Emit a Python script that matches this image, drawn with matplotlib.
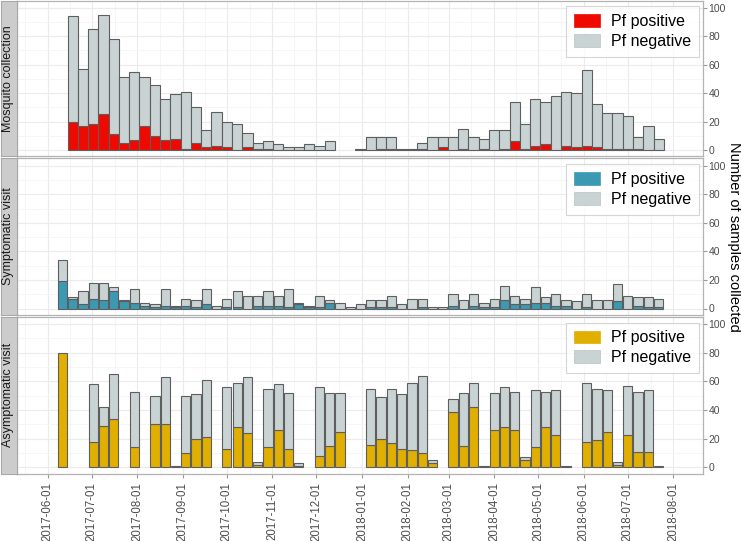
import numpy as np
import pandas as pd
import matplotlib
matplotlib.use("Agg")
import matplotlib.pyplot as plt
import matplotlib.dates as mdates
from matplotlib.patches import Patch

plt.rcParams['font.family'] = ['Liberation Sans', 'DejaVu Sans']

# ---------------- data ----------------
panel_names = ["Mosquito collection", "Symptomatic visit", "Asymptomatic visit"]

mosq_start = "2017-06-18"
mosq_total = [94, 57, 85, 95, 78, 51, 55, 51, 46, 36, 39, 41, 30, 14, 27, 20, 18, 12, 5, 6,
              4, 2, 2, 4, 3, 6, 0, 0, 1, 9, 9, 9, 1, 1, 5, 9, 9, 9, 15, 9,
              8, 14, 14, 34, 18, 36, 34, 38, 41, 40, 56, 32, 26, 26, 24, 9, 17, 8]
mosq_pos = [20, 17, 18, 25, 11, 5, 7, 17, 10, 7, 8, 1, 5, 2, 3, 2, 0, 2, 1, 1,
            0, 0, 0, 0, 0, 0, 0, 0, 0, 0, 1, 1, 0, 0, 1, 0, 2, 0, 1, 0,
            1, 0, 1, 6, 1, 3, 4, 0, 3, 2, 3, 2, 1, 1, 1, 1, 0, 0]

sympt_start = "2017-06-11"
sympt_total = [34, 8, 12, 18, 18, 15, 6, 14, 4, 3, 14, 2, 7, 6, 14, 2, 7, 12, 9, 9,
               12, 9, 14, 4, 2, 9, 6, 4, 1, 3, 6, 6, 9, 3, 7, 7, 1, 1, 10, 6,
               10, 4, 7, 16, 9, 7, 15, 8, 10, 6, 5, 10, 6, 6, 17, 9, 8, 8, 7]
sympt_pos = [19, 7, 3, 7, 6, 12, 5, 4, 2, 1, 2, 1, 2, 1, 3, 0, 1, 1, 0, 2,
             2, 2, 1, 3, 1, 1, 4, 0, 0, 0, 1, 1, 1, 0, 0, 1, 0, 0, 2, 0,
             2, 1, 1, 6, 3, 3, 4, 4, 2, 2, 0, 1, 0, 0, 5, 0, 2, 1, 1]

asym_start = "2017-06-11"
asym_total = [80, 0, 0, 58, 42, 65, 0, 53, 0, 50, 63, 1, 50, 51, 61, 0, 56, 59, 63, 4,
              55, 58, 52, 3, 0, 56, 52, 52, 0, 0, 55, 49, 55, 51, 59, 64, 5, 0, 48, 52,
              59, 1, 52, 56, 53, 7, 54, 53, 54, 1, 0, 59, 55, 54, 4, 57, 53, 54, 1]
asym_pos = [80, 0, 0, 18, 29, 34, 0, 14, 0, 30, 30, 1, 10, 20, 21, 0, 13, 28, 24, 2,
            14, 26, 13, 1, 0, 8, 15, 25, 0, 0, 16, 20, 17, 13, 12, 10, 3, 0, 39, 15,
            42, 0, 26, 28, 26, 5, 14, 28, 23, 0, 0, 18, 19, 25, 2, 23, 11, 11, 0]

pos_colors = ["#EE0A00", "#3B9AB2", "#E1AF00"]
neg_color = "#C9D3D3"
legend_labels = ["Pf positive", "Pf negative"]

x_tick_dates = pd.date_range("2017-06-01", "2018-08-01", freq="MS")
y_ticks = [0, 20, 40, 60, 80, 100]

# ---------------- layout ----------------
W, H = 741, 541
fig = plt.figure(figsize=(W / 100, H / 100), dpi=100)


def px_axes(x0, y0, x1, y1):
    return fig.add_axes([x0 / W, 1 - y1 / H, (x1 - x0) / W, (y1 - y0) / H])


panel_rows = [(0.5, 156.0), (158.5, 314.5), (317.0, 473.5)]
series = [
    (mosq_start, mosq_total, mosq_pos, 7.0),
    (sympt_start, sympt_total, sympt_pos, 6.3),
    (asym_start, asym_total, asym_pos, 6.3),
]

d0 = mdates.date2num(pd.Timestamp("2017-06-01"))
xlim = (d0 - 20.9, d0 + 446.2)
major_x = mdates.date2num(x_tick_dates)
minor_x = np.concatenate([[major_x[0] - 15.5], (major_x[:-1] + major_x[1:]) / 2])

edge = "#5E5E5E"
axes = []
for i, ((y0, y1), (start, total, pos, width)) in enumerate(zip(panel_rows, series)):
    ax = px_axes(17, y0, 703, y1)
    axes.append(ax)
    dates = mdates.date2num(pd.date_range(start, periods=len(total), freq="7D"))
    total = np.array(total, dtype=float)
    pos = np.array(pos, dtype=float)
    neg = total - pos
    mp = pos > 0
    ax.bar(dates[mp], pos[mp], width=width, color=pos_colors[i], edgecolor=edge,
           linewidth=0.8, zorder=3)
    mn = neg > 0
    ax.bar(dates[mn], neg[mn], bottom=pos[mn], width=width, color=neg_color,
           edgecolor=edge, linewidth=0.8, zorder=3)

    ax.set_xlim(*xlim)
    ax.set_ylim(-4.2, 105)
    ax.set_xticks(major_x)
    ax.set_xticks(minor_x, minor=True)
    ax.set_yticks(y_ticks)
    ax.set_yticks([10, 30, 50, 70, 90], minor=True)
    ax.grid(True, which="major", color="#EBEBEB", linewidth=0.8, zorder=0)
    ax.grid(True, which="minor", color="#F3F3F3", linewidth=0.5, zorder=0)
    ax.set_axisbelow(True)
    ax.yaxis.tick_right()
    ax.tick_params(axis="y", which="major", length=3, color="#999999", labelsize=7.5,
                   labelcolor="#4D4D4D", pad=1, right=True, left=False)
    ax.tick_params(axis="y", which="minor", length=0)
    ax.tick_params(axis="x", which="minor", length=0)
    for s in ax.spines.values():
        s.set_color("#B3B3B3")
        s.set_linewidth(0.9)
    if i < 2:
        ax.tick_params(axis="x", which="major", length=0, labelbottom=False)
    else:
        ax.set_xticklabels([d.strftime("%Y-%m-%d") for d in x_tick_dates],
                           rotation=90, fontsize=8.3, color="#4D4D4D")
        ax.tick_params(axis="x", which="major", length=3, color="#999999", pad=3)

    handles = [Patch(facecolor=pos_colors[i], edgecolor=pos_colors[i], linewidth=0.5),
               Patch(facecolor=neg_color, edgecolor="#B8C2C2", linewidth=0.5)]
    leg = ax.legend(handles, legend_labels, loc="upper right",
                    bbox_to_anchor=(0.9942, 1 - 5.5 / (y1 - y0)), borderaxespad=0,
                    fontsize=11.5, frameon=True, fancybox=False, handlelength=1.6,
                    handleheight=0.85, handletextpad=0.7, labelspacing=0.3,
                    borderpad=0.5)
    leg.get_frame().set_edgecolor("#CCCCCC")
    leg.get_frame().set_linewidth(0.8)

    # strip
    sax = px_axes(0.5, y0, 16.5, y1)
    sax.set_facecolor("#CCCCCC")
    sax.set_xticks([])
    sax.set_yticks([])
    for s in sax.spines.values():
        s.set_color("#A8A8A8")
        s.set_linewidth(0.8)
    sax.text(0.5, 0.5, panel_names[i], rotation=90, ha="center", va="center",
             fontsize=9, color="#1A1A1A", transform=sax.transAxes)

fig.text(734 / W, 1 - 237 / H, "Number of samples collected", rotation=-90,
         ha="center", va="center", fontsize=10.5, color="black")

fig.savefig("out.png", dpi=100)
